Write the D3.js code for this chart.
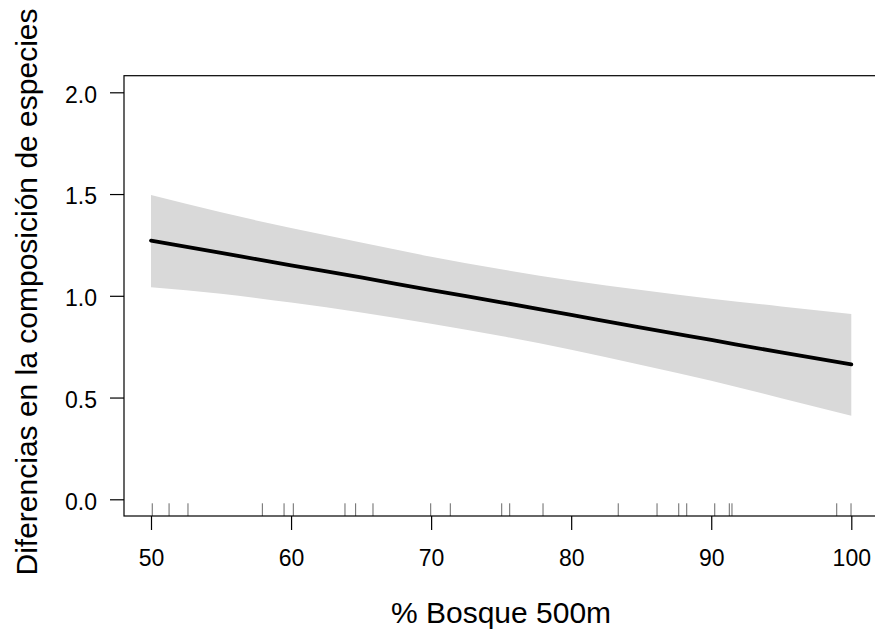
<!DOCTYPE html>
<html>
<head>
<meta charset="utf-8">
<script src="https://cdn.jsdelivr.net/npm/d3@7"></script>
<style>
  html, body { margin: 0; padding: 0; background: #fff; }
  svg { display: block; }
  text { font-family: "Liberation Sans", Arial, Helvetica, sans-serif; fill: #000; }
</style>
</head>
<body>
<svg id="chart" width="875" height="629"></svg>
<script>
// ---- Data ----
const bosque = [50, 55, 60, 65, 70, 75, 80, 85, 90, 95, 100];
const fitValues = [1.271, 1.211, 1.150, 1.090, 1.028, 0.968, 0.906, 0.844, 0.783, 0.722, 0.663];
const upperValues = [1.495, 1.410, 1.333, 1.262, 1.192, 1.130, 1.075, 1.028, 0.985, 0.948, 0.911];
const lowerValues = [1.042, 1.010, 0.967, 0.918, 0.863, 0.802, 0.735, 0.660, 0.582, 0.497, 0.411];
const rugValues = [50.09, 51.29, 52.64, 57.95, 59.50, 60.16, 63.85, 64.61, 65.85, 69.97, 71.37,
                   75.04, 75.61, 77.99, 83.36, 86.13, 87.68, 88.25, 90.25, 91.29, 91.48, 98.96, 99.98];
const xTicks = [50, 60, 70, 80, 90, 100];
const yTicks = [0.0, 0.5, 1.0, 1.5, 2.0];
const xTitle = "% Bosque 500m";
const yTitle = "Diferencias en la composición de especies";

// ---- Layout ----
const svg = d3.select("#chart");
const box = { left: 124, top: 75.7, right: 878, bottom: 516 };

const x = d3.scaleLinear().domain([50, 100]).range([151, 851.3]);
const y = d3.scaleLinear().domain([0, 2]).range([499.3, 92.3]);

const rows = bosque.map((b, i) => ({ b, fit: fitValues[i], lo: lowerValues[i], hi: upperValues[i] }));

// Confidence ribbon
svg.append("path")
  .datum(rows)
  .attr("fill", "#d9d9d9")
  .attr("stroke", "none")
  .attr("d", d3.area().curve(d3.curveMonotoneX).x(d => x(d.b)).y0(d => y(d.lo)).y1(d => y(d.hi)));

// Fitted line
svg.append("path")
  .datum(rows)
  .attr("fill", "none")
  .attr("stroke", "#000")
  .attr("stroke-width", 3.8)
  .attr("stroke-linejoin", "round")
  .attr("stroke-linecap", "round")
  .attr("d", d3.line().curve(d3.curveMonotoneX).x(d => x(d.b)).y(d => y(d.fit)));

// Rug
svg.append("g")
  .selectAll("line")
  .data(rugValues)
  .join("line")
  .attr("x1", d => x(d)).attr("x2", d => x(d))
  .attr("y1", 503.3).attr("y2", box.bottom)
  .attr("stroke", "#000")
  .attr("stroke-width", 0.6);

// Box
svg.append("rect")
  .attr("x", box.left).attr("y", box.top)
  .attr("width", box.right - box.left).attr("height", box.bottom - box.top)
  .attr("fill", "none").attr("stroke", "#000").attr("stroke-width", 1.2);

// X axis
const gx = svg.append("g")
  .attr("transform", `translate(0,${box.bottom})`)
  .call(d3.axisBottom(x).tickValues(xTicks).tickFormat(d3.format("d")).tickSize(14).tickPadding(20));
gx.select(".domain").remove();
gx.selectAll(".tick line").attr("stroke", "#000").attr("stroke-width", 1.2);
gx.selectAll(".tick text").attr("font-size", 23).attr("font-family", null);

// Y axis
const gy = svg.append("g")
  .attr("transform", `translate(${box.left},0)`)
  .call(d3.axisLeft(y).tickValues(yTicks).tickFormat(d3.format(".1f")).tickSize(14).tickPadding(13));
gy.select(".domain").remove();
gy.selectAll(".tick line").attr("stroke", "#000").attr("stroke-width", 1.2);
gy.selectAll(".tick text").attr("font-size", 23).attr("font-family", null).attr("dy", "0.43em");

// Titles
svg.append("text")
  .attr("x", 501).attr("y", 623)
  .attr("text-anchor", "middle")
  .attr("font-size", 30)
  .text(xTitle);

svg.append("text")
  .attr("transform", "translate(36.5,292) rotate(-90)")
  .attr("text-anchor", "middle")
  .attr("font-size", 30)
  .text(yTitle);
</script>
</body>
</html>
